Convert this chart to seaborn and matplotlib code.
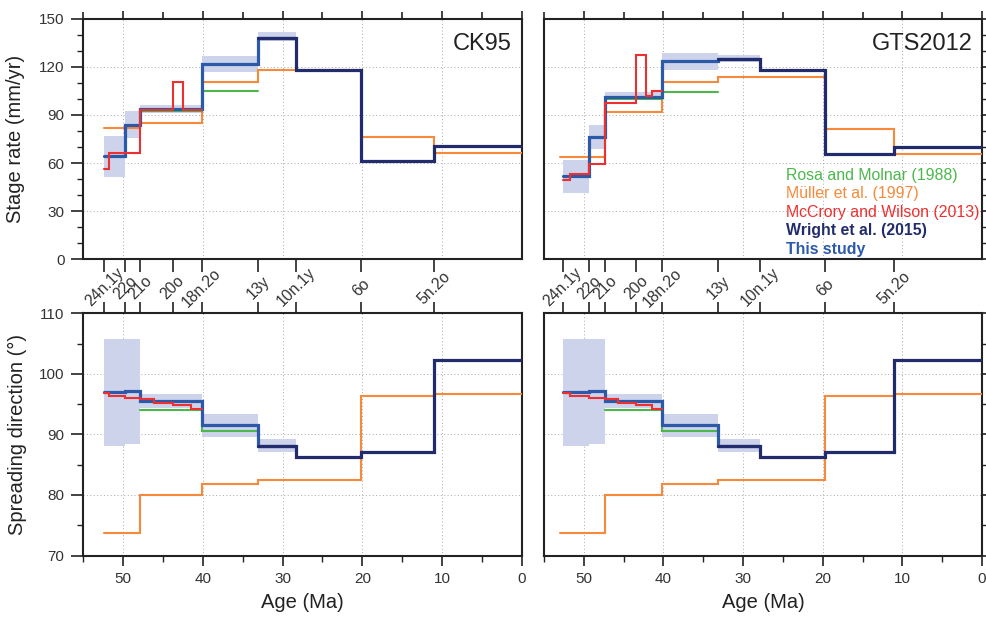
import matplotlib
matplotlib.use("Agg")
import matplotlib.pyplot as plt
import matplotlib.transforms as mtransforms
from matplotlib.ticker import MultipleLocator, NullFormatter
import pandas as pd
import seaborn as sns

# ---------------------------------------------------------------- data
CHRON_LABELS = ["24n.1y", "22o", "21o", "20o", "18n.2o", "13y", "10n.1y", "6o", "5n.2o"]
CK95_AGES = [52.36, 49.71, 47.91, 43.79, 40.13, 33.06, 28.28, 20.13, 10.95]
GTS_AGES = [52.62, 49.34, 47.35, 43.43, 40.15, 33.16, 27.90, 19.72, 11.06]

# Stage boundaries (Ma) for each study, per timescale
study_ages_ck95 = [52.36, 49.71, 47.91, 40.13, 33.06, 28.28]
study_ages_gts = [52.62, 49.34, 47.35, 40.15, 33.16, 27.90]
wright_ages_ck95 = [33.06, 28.28, 20.13, 10.95, 0.0]
wright_ages_gts = [33.16, 27.90, 19.72, 11.06, 0.0]
muller_ages_ck95 = [52.36, 47.91, 40.13, 33.06, 20.13, 10.95, 0.0]
muller_ages_gts = [53.00, 47.35, 40.15, 33.16, 19.72, 11.06, 0.0]
rosa_ages_ck95 = [47.91, 40.13, 33.06]
rosa_ages_gts = [47.35, 40.15, 33.16]
mccrory_rate_ages_ck95 = [52.36, 51.75, 47.91, 43.79, 42.50, 40.13]
mccrory_rate_ages_gts = [52.62, 51.80, 49.34, 47.35, 43.43, 42.24, 41.40, 40.15]
mccrory_dir_ages_ck95 = [52.36, 51.75, 49.71, 47.91, 46.10, 43.79, 41.50, 40.13]
mccrory_dir_ages_gts = [52.62, 51.80, 49.34, 47.35, 45.70, 43.43, 41.40, 40.15]

# Stage rates (mm/yr)
study_rate_ck95 = [64.6, 84.0, 94.0, 122.0, 138.0]
study_rate_lo_ck95 = [51.2, 75.6, 91.5, 117.0, 135.8]
study_rate_hi_ck95 = [76.6, 92.7, 96.4, 127.0, 141.6]
study_rate_gts = [52.1, 76.0, 101.2, 123.5, 125.0]
study_rate_lo_gts = [41.6, 68.7, 99.1, 118.3, 122.9]
study_rate_hi_gts = [61.6, 83.7, 104.1, 128.7, 127.1]
wright_rate_ck95 = [138.0, 117.7, 61.0, 70.6]
wright_rate_gts = [125.0, 118.3, 65.8, 69.8]
muller_rate_ck95 = [81.6, 84.8, 110.8, 117.7, 76.2, 66.2]
muller_rate_gts = [63.9, 91.6, 110.8, 113.9, 81.2, 65.6]
rosa_rate_ck95 = [92.3, 104.8]
rosa_rate_gts = [100.0, 104.1]
mccrory_rate_ck95 = [56.2, 66.2, 93.3, 110.8, 93.3]
mccrory_rate_gts = [49.6, 53.3, 59.6, 97.5, 127.5, 101.6, 104.8]

# Spreading directions (degrees), same for both timescales
study_dir = [97.0, 97.2, 95.6, 91.6, 88.1]
study_dir_lo = [88.1, 88.5, 94.4, 89.6, 87.1]
study_dir_hi = [105.7, 105.7, 96.6, 93.3, 89.2]
wright_dir = [88.1, 86.2, 87.1, 102.3]
muller_dir = [73.8, 80.05, 81.8, 82.4, 96.4, 96.7]
rosa_dir = [94.1, 90.5]
mccrory_dir = [96.8, 96.4, 96.0, 95.8, 95.2, 94.8, 94.2]

# ---------------------------------------------------------------- style
C_ROSA = "#4cb84c"
C_MULLER = "#f68a3a"
C_MCCRORY = "#ee2f2f"
C_WRIGHT = "#222c6c"
C_STUDY = "#2c5aa8"
C_BAND = "#ccd3ea"
C_TEXT = "#222222"

sns.set_theme(style="ticks")
plt.rcParams["font.family"] = ["Liberation Sans", "DejaVu Sans"]
plt.rcParams["axes.edgecolor"] = C_TEXT
plt.rcParams["axes.linewidth"] = 1.5
plt.rcParams["xtick.color"] = C_TEXT
plt.rcParams["ytick.color"] = C_TEXT
plt.rcParams["xtick.labelcolor"] = "#333333"
plt.rcParams["ytick.labelcolor"] = "#333333"


def step_frame(ages, values):
    """Vertices for a post-step line through stage boundaries."""
    return pd.DataFrame({"age": ages, "value": list(values) + [values[-1]]})


def step_line(ax, ages, values, color, lw, z):
    df = step_frame(ages, values)
    sns.lineplot(data=df, x="age", y="value", ax=ax, sort=False, estimator=None,
                 drawstyle="steps-post", color=color, lw=lw, zorder=z,
                 solid_joinstyle="miter")


def band(ax, ages, lo, hi):
    ax.fill_between(ages, list(lo) + [lo[-1]], list(hi) + [hi[-1]], step="post",
                    color=C_BAND, lw=0, zorder=1)


def frame_axes(ax, ylim, ymajor, yminor, right):
    ax.set_xlim(55, 0)
    ax.set_ylim(*ylim)
    ax.xaxis.set_major_locator(MultipleLocator(10))
    ax.xaxis.set_minor_locator(MultipleLocator(5))
    ax.yaxis.set_major_locator(MultipleLocator(ymajor))
    ax.yaxis.set_minor_locator(MultipleLocator(yminor))
    ax.grid(True, which="major", ls=(0, (1, 2.5)), color="#a8a8a8", lw=0.7, zorder=0)
    ax.set_axisbelow(True)
    ax.tick_params(axis="y", which="major", direction="out", length=8.5, width=1.2,
                   labelsize=11, pad=5)
    ax.tick_params(axis="y", which="minor", direction="out", length=4, width=1.0)
    if right:
        ax.yaxis.tick_right()
        ax.tick_params(axis="y", which="both", labelright=False, labelleft=False)
    for s in ax.spines.values():
        s.set_linewidth(1.5)
        s.set_color(C_TEXT)
    ax.set_xlabel("")
    ax.set_ylabel("")


fig = plt.figure(figsize=(9.87, 6.23), dpi=100)
ax_tl = fig.add_axes([0.0844, 0.5838, 0.4442, 0.3862])
ax_tr = fig.add_axes([0.5512, 0.5838, 0.4438, 0.3862])
ax_bl = fig.add_axes([0.0844, 0.1083, 0.4442, 0.3888])
ax_br = fig.add_axes([0.5512, 0.1083, 0.4438, 0.3888])

panels = [
    (ax_tl, ax_bl, CK95_AGES, "CK95",
     dict(study=study_ages_ck95, wright=wright_ages_ck95, muller=muller_ages_ck95,
          rosa=rosa_ages_ck95, mcr=mccrory_rate_ages_ck95, mcd=mccrory_dir_ages_ck95),
     dict(study=study_rate_ck95, lo=study_rate_lo_ck95, hi=study_rate_hi_ck95,
          wright=wright_rate_ck95, muller=muller_rate_ck95, rosa=rosa_rate_ck95,
          mc=mccrory_rate_ck95), False),
    (ax_tr, ax_br, GTS_AGES, "GTS2012",
     dict(study=study_ages_gts, wright=wright_ages_gts, muller=muller_ages_gts,
          rosa=rosa_ages_gts, mcr=mccrory_rate_ages_gts, mcd=mccrory_dir_ages_gts),
     dict(study=study_rate_gts, lo=study_rate_lo_gts, hi=study_rate_hi_gts,
          wright=wright_rate_gts, muller=muller_rate_gts, rosa=rosa_rate_gts,
          mc=mccrory_rate_gts), True),
]

for ax_r, ax_d, chron_ages, title, ages, rate, right in panels:
    # ---- stage rate
    band(ax_r, ages["study"], rate["lo"], rate["hi"])
    step_line(ax_r, ages["muller"], rate["muller"], C_MULLER, 1.5, 3)
    step_line(ax_r, ages["rosa"], rate["rosa"], C_ROSA, 1.5, 3)
    step_line(ax_r, ages["study"], rate["study"], C_STUDY, 2.3, 4)
    step_line(ax_r, ages["mcr"], rate["mc"], C_MCCRORY, 1.5, 5)
    step_line(ax_r, ages["wright"], rate["wright"], C_WRIGHT, 2.3, 6)
    frame_axes(ax_r, (0, 150), 30, 10, right)
    ax_r.xaxis.tick_top()
    ax_r.tick_params(axis="x", which="both", labeltop=False, labelbottom=False,
                     direction="out", width=1.2)
    ax_r.tick_params(axis="x", which="major", length=6)
    ax_r.tick_params(axis="x", which="minor", length=5)
    ax_r.text(0.978, 0.895, title, transform=ax_r.transAxes, ha="right", va="center",
              fontsize=17, color=C_TEXT)

    # magnetic chron ticks between the rows
    sec = ax_r.secondary_xaxis("bottom")
    sec.set_xticks(chron_ages)
    sec.xaxis.set_major_formatter(NullFormatter())
    sec.tick_params(axis="x", direction="out", length=9, width=1.2, color=C_TEXT)
    sec.spines["bottom"].set_visible(False)
    trans = mtransforms.blended_transform_factory(ax_r.transData, ax_r.transAxes)
    for a, lab in zip(chron_ages, CHRON_LABELS):
        ax_r.text(a, -0.117, lab, transform=trans, rotation=45, ha="center",
                  va="center", fontsize=11.3, color="#333333", clip_on=False,
                  rotation_mode="default")

    # ---- spreading direction
    band(ax_d, ages["study"], study_dir_lo, study_dir_hi)
    step_line(ax_d, ages["muller"], muller_dir, C_MULLER, 1.5, 3)
    step_line(ax_d, ages["rosa"], rosa_dir, C_ROSA, 1.5, 3)
    step_line(ax_d, ages["study"], study_dir, C_STUDY, 2.3, 4)
    step_line(ax_d, ages["mcd"], mccrory_dir, C_MCCRORY, 1.5, 5)
    step_line(ax_d, ages["wright"], wright_dir, C_WRIGHT, 2.3, 6)
    frame_axes(ax_d, (70, 110), 10, 5, right)
    ax_d.tick_params(axis="x", which="major", direction="out", length=7, width=1.2,
                     labelsize=11, pad=5)
    ax_d.tick_params(axis="x", which="minor", direction="out", length=4.5, width=1.0)
    ax_d.xaxis.set_major_formatter(plt.FuncFormatter(lambda v, p: f"{v:.0f}"))
    ax_d.set_xlabel("Age (Ma)", fontsize=14.5, color=C_TEXT)
    ax_d.xaxis.set_label_coords(0.5, -0.155)
    sec2 = ax_d.secondary_xaxis("top")
    sec2.set_xticks(chron_ages)
    sec2.xaxis.set_major_formatter(NullFormatter())
    sec2.tick_params(axis="x", direction="out", length=8, width=1.2, color=C_TEXT)
    sec2.spines["top"].set_visible(False)

ax_tl.set_ylabel("Stage rate (mm/yr)", fontsize=14.5, color=C_TEXT)
ax_tl.yaxis.set_label_coords(-0.133, 0.5)
ax_bl.set_ylabel("Spreading direction (°)", fontsize=14.5, color=C_TEXT)
ax_bl.yaxis.set_label_coords(-0.128, 0.5)

# key to the studies
legend_items = [
    ("Rosa and Molnar (1988)", C_ROSA, "normal"),
    ("Müller et al. (1997)", C_MULLER, "normal"),
    ("McCrory and Wilson (2013)", C_MCCRORY, "normal"),
    ("Wright et al. (2015)", C_WRIGHT, "bold"),
    ("This study", C_STUDY, "bold"),
]
for i, (txt, col, wt) in enumerate(legend_items):
    ax_tr.text(0.5525, 0.350 - i * 0.077, txt, transform=ax_tr.transAxes, ha="left",
               va="center", fontsize=11.4, color=col, fontweight=wt)

fig.savefig("out.png", dpi=100)
